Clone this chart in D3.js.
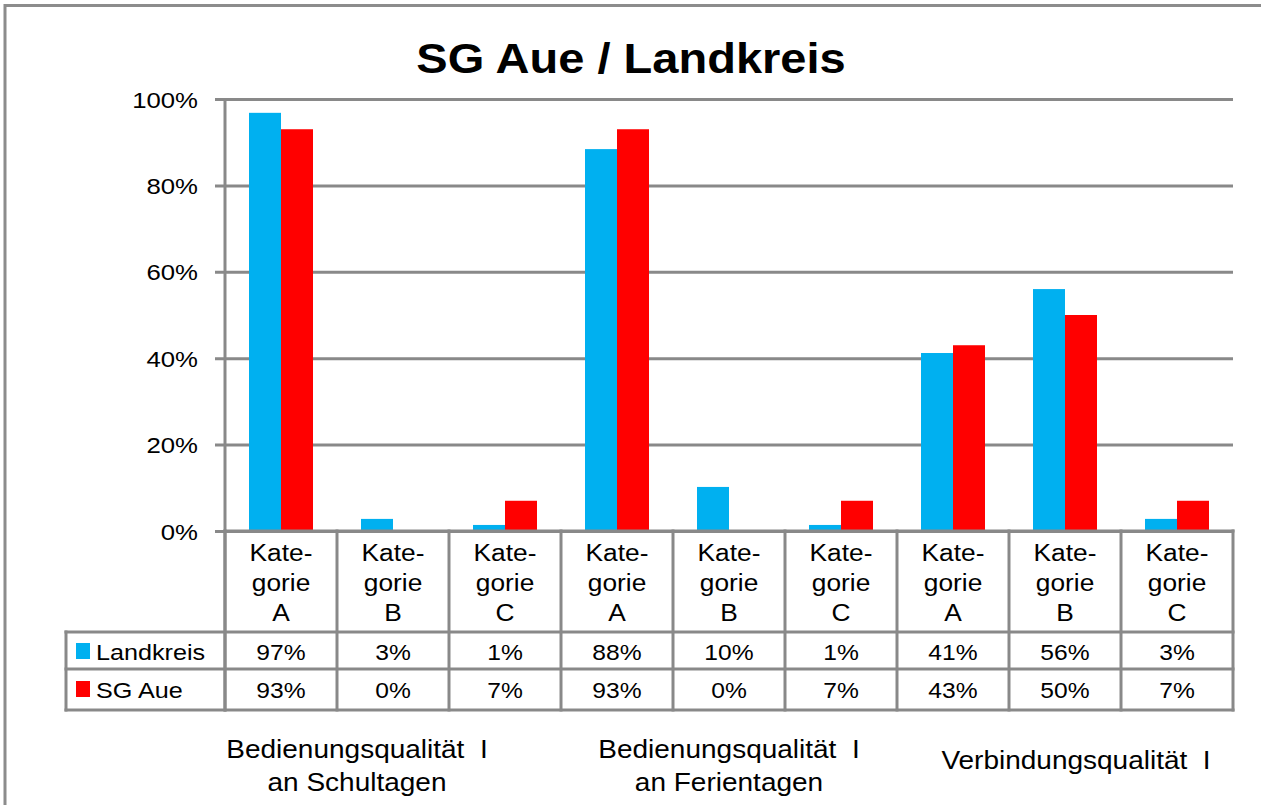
<!DOCTYPE html>
<html>
<head>
<meta charset="utf-8">
<script src="https://cdn.jsdelivr.net/npm/d3@7"></script>
<style>
  html, body { margin: 0; padding: 0; background: #fff; }
  svg { display: block; font-family: "Liberation Sans", Arial, sans-serif; }
</style>
</head>
<body>
<svg id="chart" width="1261" height="805"></svg>
<script>
// ---- data ----
const title = "SG Aue / Landkreis";
const categories = [
  ["Kate-", "gorie", "A"], ["Kate-", "gorie", "B"], ["Kate-", "gorie", "C"],
  ["Kate-", "gorie", "A"], ["Kate-", "gorie", "B"], ["Kate-", "gorie", "C"],
  ["Kate-", "gorie", "A"], ["Kate-", "gorie", "B"], ["Kate-", "gorie", "C"]
];
const seriesNames = ["Landkreis", "SG Aue"];
const landkreis = [96.8, 2.8, 1.4, 88.4, 10.2, 1.4, 41.2, 56.0, 2.8];
const sgAue = [93, 0, 7, 93, 0, 7, 43, 50, 7];
const groups = [
  ["Bedienungsqualität  I", "an Schultagen"],
  ["Bedienungsqualität  I", "an Ferientagen"],
  ["Verbindungsqualität  I"]
];
const yTicks = [0, 20, 40, 60, 80, 100];
const colors = ["#00B0F0", "#FF0000"];

// ---- layout ----
const svg = d3.select("#chart");
const gridColor = "#898989";
const SX = 1.12; // horizontal stretch of text seen in the reference
const X0 = 225, X1 = 1233, YTOP = 99, YBOT = 531;
const tableLeft = 66, row1 = 632, row2 = 669, row3 = 710;

function txt(x, y, str, size, anchor, weight) {
  return svg.append("text")
    .attr("transform", `translate(${x},${y}) scale(${SX},1)`)
    .attr("text-anchor", anchor || "start")
    .attr("font-size", size)
    .attr("font-weight", weight || "normal")
    .attr("fill", "#000")
    .style("white-space", "pre")
    .text(str);
}

const series = [landkreis, sgAue];
const idx = d3.range(categories.length);
const x = d3.scaleBand().domain(idx).range([X0, X1]).paddingInner(0).paddingOuter(0);
const xs = d3.scaleBand().domain([0, 1]).range([0, x.bandwidth()]).paddingInner(0).paddingOuter(0.75);
const y = d3.scaleLinear().domain([0, 100]).range([YBOT, YTOP]);

// outer border
svg.append("rect").attr("x", 5).attr("y", 5.5).attr("width", 1400).attr("height", 1000)
  .attr("fill", "none").attr("stroke", "#8c8c8c").attr("stroke-width", 3);

// title
txt(631, 73, title, 42, "middle", "bold");

// gridlines + y axis labels
const yAxis = d3.axisLeft(y).tickValues(yTicks).tickSize(-(X1 - X0)).tickFormat(d => d + "%").tickPadding(27);
const ga = svg.append("g").attr("transform", `translate(${X0},0)`).call(yAxis);
ga.select(".domain").remove();
ga.selectAll(".tick line").attr("stroke", gridColor).attr("stroke-width", 3).attr("x1", -10);
ga.selectAll(".tick text").attr("font-size", 23).attr("fill", "#000")
  .attr("font-family", "Liberation Sans, Arial, sans-serif")
  .attr("x", 0).attr("dy", "0.35em")
  .attr("transform", `translate(-27,0) scale(${SX},1)`);

// bars
idx.forEach(i => {
  series.forEach((s, k) => {
    svg.append("rect")
      .attr("x", x(i) + xs(k)).attr("width", xs.bandwidth())
      .attr("y", y(s[i])).attr("height", y(0) - y(s[i]))
      .attr("fill", colors[k]);
  });
});

// y axis line
svg.append("line").attr("x1", X0).attr("x2", X0).attr("y1", YTOP - 1).attr("y2", row3 + 1.5)
  .attr("stroke", gridColor).attr("stroke-width", 3);

// table lines
const tl = svg.append("g").attr("stroke", gridColor).attr("stroke-width", 3).attr("stroke-linecap", "square");
[row1, row2, row3].forEach(r => tl.append("line").attr("x1", tableLeft).attr("x2", X1).attr("y1", r).attr("y2", r));
tl.append("line").attr("x1", X0).attr("x2", X1).attr("y1", YBOT).attr("y2", YBOT);
tl.append("line").attr("x1", tableLeft).attr("x2", tableLeft).attr("y1", row1).attr("y2", row3);
idx.concat([categories.length]).forEach(i => {
  const xx = i < categories.length ? x(i) : X1;
  tl.append("line").attr("x1", xx).attr("x2", xx).attr("y1", YBOT).attr("y2", row3);
});

// category labels
idx.forEach(i => {
  categories[i].forEach((ln, j) => {
    txt(x(i) + x.bandwidth() / 2, 561 + j * 30, ln, 23.5, "middle");
  });
});

// table rows
const rowBase = [660, 698];
series.forEach((s, k) => {
  svg.append("rect").attr("x", 76).attr("y", rowBase[k] - 17).attr("width", 14).attr("height", 16).attr("fill", colors[k]);
  txt(96, rowBase[k], seriesNames[k], 22.5, "start");
  idx.forEach(i => {
    txt(x(i) + x.bandwidth() / 2, rowBase[k], Math.round(s[i]) + "%", 22, "middle");
  });
});

// group labels
const groupOffsets = [-36, 0, 11];
const groupBase = [[758, 791], [758, 791], [769]];
groups.forEach((g, gi) => {
  const cx = (x(gi * 3) + x(gi * 3 + 2) + x.bandwidth()) / 2 + groupOffsets[gi];
  g.forEach((ln, j) => {
    txt(cx, groupBase[gi][j], ln, 25, "middle");
  });
});
</script>
</body>
</html>
